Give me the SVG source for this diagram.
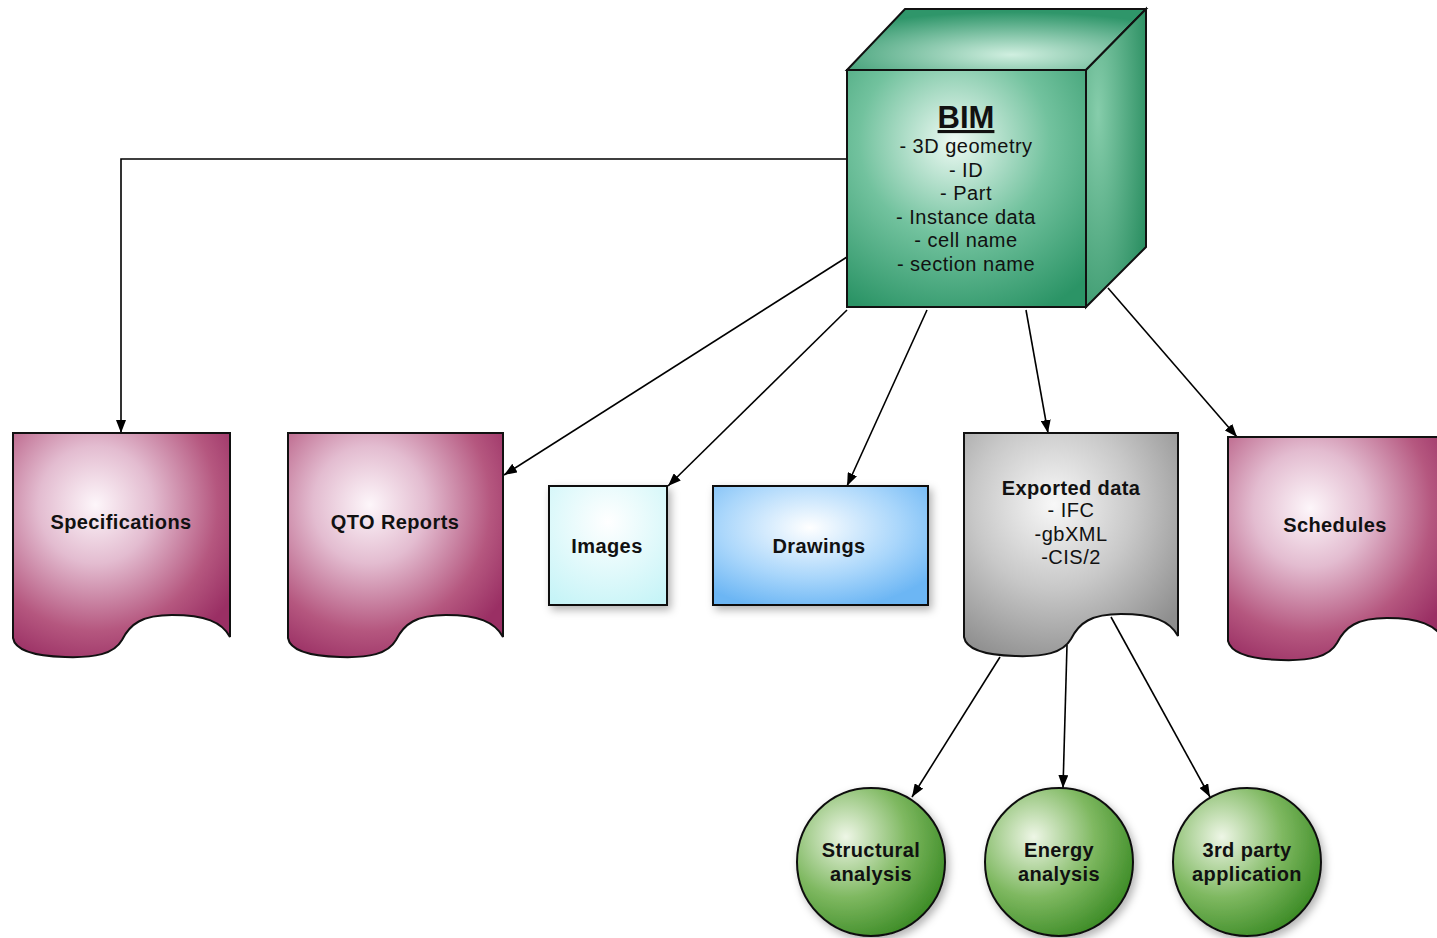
<svg xmlns="http://www.w3.org/2000/svg" width="1437" height="938" viewBox="0 0 1437 938">
<style>
.edge{fill:none;stroke:#000;stroke-width:1.6;marker-end:url(#arr)}
.outline{stroke:#111;stroke-width:2}
.lbl{font-family:"Liberation Sans",Arial,sans-serif;font-size:20px;fill:#111;text-anchor:middle;letter-spacing:0.5px}
.b{font-weight:bold;letter-spacing:0.4px}
</style>
<defs>
<marker id="arr" markerUnits="userSpaceOnUse" markerWidth="14" markerHeight="10" refX="13" refY="5" orient="auto">
<path d="M0,0 L13,5 L0,10 Z" fill="#000"/>
</marker>
<radialGradient id="gFront" cx="0.45" cy="0.3" r="0.8">
<stop offset="0" stop-color="#eefaf4"/>
<stop offset="0.5" stop-color="#72c29e"/>
<stop offset="1" stop-color="#2b9466"/>
</radialGradient>
<radialGradient id="gTop" cx="0.55" cy="0.75" r="0.7">
<stop offset="0" stop-color="#d0efe0"/>
<stop offset="1" stop-color="#2f966a"/>
</radialGradient>
<radialGradient id="gSide" cx="0.2" cy="0.35" r="0.9">
<stop offset="0" stop-color="#86cdab"/>
<stop offset="1" stop-color="#2a8e61"/>
</radialGradient>
<radialGradient id="gMag" cx="0.38" cy="0.32" r="0.75">
<stop offset="0" stop-color="#fdf6fa"/>
<stop offset="0.35" stop-color="#e3bcd0"/>
<stop offset="0.75" stop-color="#b5577f"/>
<stop offset="1" stop-color="#9a2f64"/>
</radialGradient>
<radialGradient id="gGray" cx="0.42" cy="0.32" r="0.75">
<stop offset="0" stop-color="#f8f8f8"/>
<stop offset="0.5" stop-color="#c8c8c8"/>
<stop offset="1" stop-color="#8e8e8e"/>
</radialGradient>
<radialGradient id="gCyan" cx="0.5" cy="0.3" r="0.8">
<stop offset="0" stop-color="#ffffff"/>
<stop offset="1" stop-color="#c6f4f7"/>
</radialGradient>
<radialGradient id="gBlue" cx="0.45" cy="0.35" r="0.7">
<stop offset="0" stop-color="#ffffff"/>
<stop offset="0.6" stop-color="#a9d6fb"/>
<stop offset="1" stop-color="#6cb6f4"/>
</radialGradient>
<radialGradient id="gGreen" cx="0.33" cy="0.33" r="0.75">
<stop offset="0" stop-color="#eef6e6"/>
<stop offset="0.55" stop-color="#7eb860"/>
<stop offset="1" stop-color="#3a8a24"/>
</radialGradient>
<filter id="sh" x="-20%" y="-20%" width="140%" height="140%">
<feDropShadow dx="3" dy="4" stdDeviation="4" flood-color="#000" flood-opacity="0.3"/>
</filter>
</defs>

<g id="connectors">
<path class="edge" d="M847,159 H121 V433"/>
<path class="edge" d="M847,257 L504,475"/>
<path class="edge" d="M847,310 L668,486"/>
<path class="edge" d="M927,310 L847,486"/>
<path class="edge" d="M1026,310 L1048,433"/>
<path class="edge" d="M1108,288 L1237,437"/>
<path class="edge" d="M1000,657 L912,797"/>
<path class="edge" d="M1067,645 L1063,788"/>
<path class="edge" d="M1111,617 L1210,797"/>
</g>

<g id="bim">
<path class="outline" fill="url(#gTop)" d="M847,70 L905,9 H1146 L1086,70 Z"/>
<path class="outline" fill="url(#gSide)" d="M1086,70 L1146,9 V247 L1086,307 Z"/>
<rect class="outline" fill="url(#gFront)" x="847" y="70" width="239" height="237"/>
<text class="lbl b" x="966" y="128" style="font-size:31px;text-decoration:underline;letter-spacing:0">BIM</text>
<text class="lbl" x="966" y="153">- 3D geometry</text>
<text class="lbl" x="966" y="177">- ID</text>
<text class="lbl" x="966" y="200">- Part</text>
<text class="lbl" x="966" y="224">- Instance data</text>
<text class="lbl" x="966" y="247">- cell name</text>
<text class="lbl" x="966" y="271">- section name</text>
</g>

<g id="specifications">
<path class="outline" fill="url(#gMag)" d="M13,433 H230 V637 C222,622 205,615 172,615 C142,615 130,624 122,640 C114,654 95,658 65,657 C32,656 15,650 13,638 Z"/>
<text class="lbl b" x="121" y="529">Specifications</text>
</g>

<g id="qto">
<path class="outline" fill="url(#gMag)" d="M288,433 H503 V637 C495,622 478,615 446,615 C416,615 404,624 396,640 C388,654 369,658 340,657 C307,656 290,650 288,638 Z"/>
<text class="lbl b" x="395" y="529">QTO Reports</text>
</g>

<g id="images">
<rect class="outline" fill="url(#gCyan)" filter="url(#sh)" x="549" y="486" width="118" height="119"/>
<text class="lbl b" x="607" y="553">Images</text>
</g>

<g id="drawings">
<rect class="outline" fill="url(#gBlue)" filter="url(#sh)" x="713" y="486" width="215" height="119"/>
<text class="lbl b" x="819" y="553">Drawings</text>
</g>

<g id="exported">
<path class="outline" fill="url(#gGray)" d="M964,433 H1178 V636 C1170,621 1153,614 1121,614 C1091,614 1079,623 1071,639 C1063,653 1044,657 1015,656 C982,655 966,649 964,637 Z"/>
<text class="lbl b" x="1071" y="495">Exported data</text>
<text class="lbl" x="1071" y="517">- IFC</text>
<text class="lbl" x="1071" y="541">-gbXML</text>
<text class="lbl" x="1071" y="564">-CIS/2</text>
</g>

<g id="schedules">
<path class="outline" fill="url(#gMag)" d="M1228,437 H1444 V640 C1436,625 1419,618 1387,618 C1357,618 1345,627 1337,643 C1329,657 1310,661 1281,660 C1248,659 1231,653 1228,641 Z"/>
<text class="lbl b" x="1335" y="532">Schedules</text>
</g>

<g id="structural">
<circle class="outline" fill="url(#gGreen)" filter="url(#sh)" cx="871" cy="862" r="74"/>
<text class="lbl b" x="871" y="857">Structural</text>
<text class="lbl b" x="871" y="881">analysis</text>
</g>

<g id="energy">
<circle class="outline" fill="url(#gGreen)" filter="url(#sh)" cx="1059" cy="862" r="74"/>
<text class="lbl b" x="1059" y="857">Energy</text>
<text class="lbl b" x="1059" y="881">analysis</text>
</g>

<g id="thirdparty">
<circle class="outline" fill="url(#gGreen)" filter="url(#sh)" cx="1247" cy="862" r="74"/>
<text class="lbl b" x="1247" y="857">3rd party</text>
<text class="lbl b" x="1247" y="881">application</text>
</g>
</svg>
